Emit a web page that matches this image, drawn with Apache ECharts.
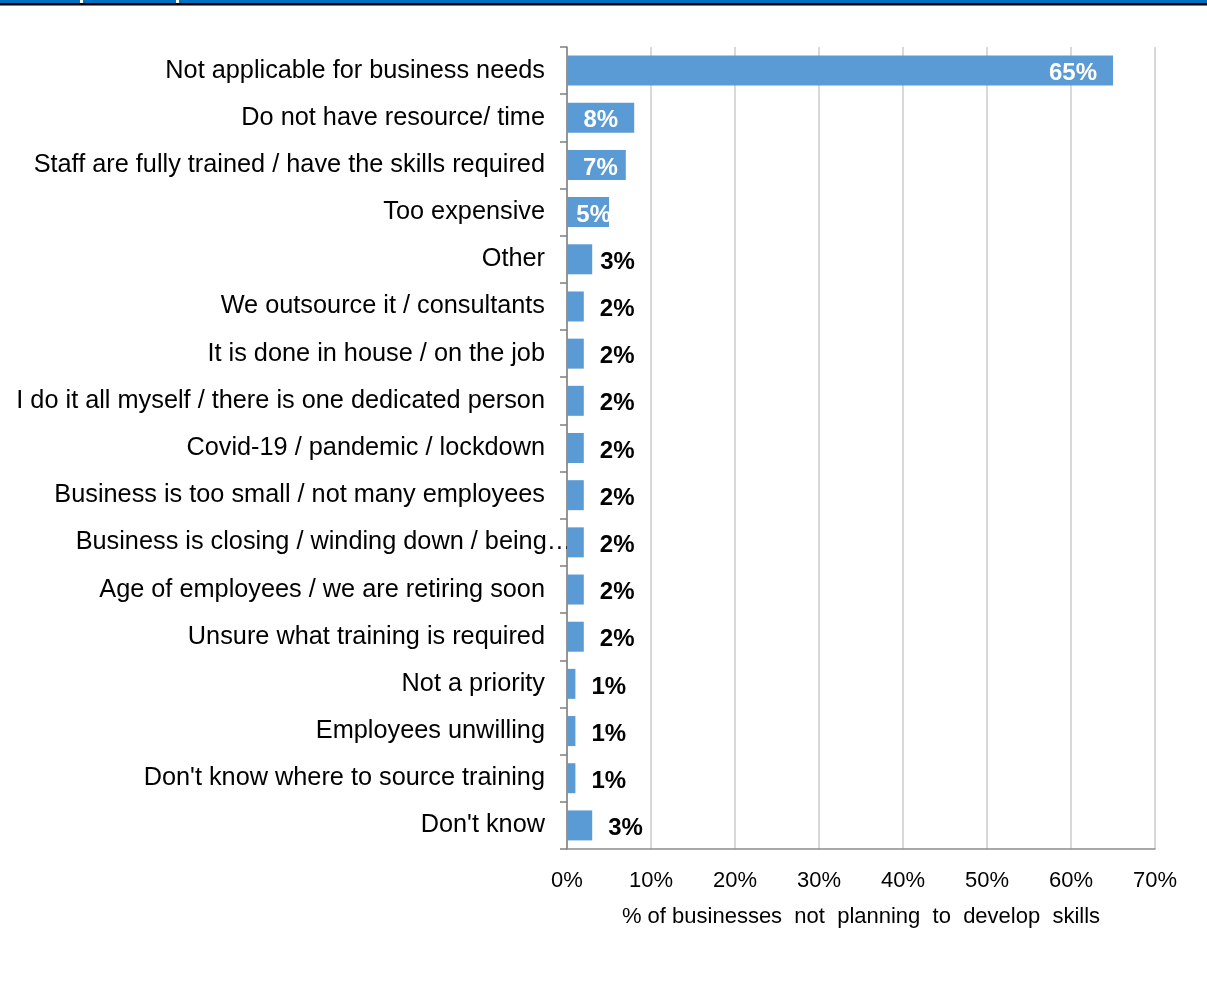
<!DOCTYPE html>
<html>
<head>
<meta charset="utf-8">
<script src="https://cdn.jsdelivr.net/npm/echarts@6/dist/echarts.min.js"></script>
<style>
  html, body { margin: 0; padding: 0; background: #fff; }
  #chart { width: 1207px; height: 982px; }
</style>
</head>
<body>
<div id="chart"></div>
<script>
// Reasons for not planning to develop skills, top to bottom
const categories = [
  'Not applicable for business needs',
  'Do not have resource/ time',
  'Staff are fully trained / have the skills required',
  'Too expensive',
  'Other',
  'We outsource it / consultants',
  'It is done in house / on the job',
  'I do it all myself / there is one dedicated person',
  'Covid-19 / pandemic / lockdown',
  'Business is too small / not many employees',
  'Business is closing / winding down / being\u2026',
  'Age of employees / we are retiring soon',
  'Unsure what training is required',
  'Not a priority',
  'Employees unwilling',
  "Don't know where to source training",
  "Don't know"
];
// Share of businesses (%)
const values = [65, 8, 7, 5, 3, 2, 2, 2, 2, 2, 2, 2, 2, 1, 1, 1, 3];
const xTicks = [0, 10, 20, 30, 40, 50, 60, 70];

const BAR = '#5b9bd5';
const FONT = '"Liberation Sans", Arial, sans-serif';

// Wide bars carry their label inside, short bars outside
const seriesData = values.map((v, i) => {
  let label;
  if (i === 0) label = { position: 'insideRight', distance: 16, color: '#fff' };
  else if (i === 1) label = { position: 'insideRight', distance: 16, color: '#fff' };
  else if (i === 2) label = { position: 'insideRight', distance: 8, color: '#fff' };
  else if (i === 3) label = { position: 'insideRight', distance: -2, color: '#fff' };
  else if (i === 4) label = { position: 'right', distance: 8, color: '#000' };
  else label = { position: 'right', distance: 16, color: '#000' };
  return { value: v, label: label };
});

const yData = categories.map(c => {
  if (c.indexOf('being') >= 0) {
    return { value: c, textStyle: { padding: [0, -27, 10, 0] } };
  }
  return c;
});

const chart = echarts.init(document.getElementById('chart'), null, { renderer: 'canvas' });
chart.setOption({
  animation: false,
  backgroundColor: '#fff',
  grid: { left: 567, right: 52, top: 47, bottom: 133, containLabel: false },
  xAxis: {
    type: 'value',
    min: 0,
    max: 70,
    interval: 10,
    name: '% of businesses  not  planning  to  develop  skills',
    nameLocation: 'middle',
    nameGap: 57,
    nameTextStyle: { fontFamily: FONT, fontSize: 22, color: '#000' },
    axisLine: { show: true, lineStyle: { color: '#8c8c8c', width: 1.5 } },
    axisTick: { show: false },
    axisLabel: {
      margin: 21,
      fontFamily: FONT, fontSize: 22, color: '#000',
      formatter: v => (xTicks.indexOf(v) >= 0 ? v + '%' : '')
    },
    splitLine: { show: true, lineStyle: { color: '#d9d9d9', width: 2 } }
  },
  yAxis: {
    type: 'category',
    inverse: true,
    data: yData,
    axisLine: { show: true, lineStyle: { color: '#7f7f7f', width: 1.5 } },
    axisTick: { show: true, length: 7, lineStyle: { color: '#7f7f7f', width: 1.5 } },
    axisLabel: { margin: 22, fontFamily: FONT, fontSize: 25.3, color: '#000', padding: [0, 0, 10, 0] },
    splitLine: { show: false }
  },
  series: [{
    type: 'bar',
    data: seriesData,
    barWidth: 30,
    itemStyle: { color: BAR },
    label: {
      show: true,
      fontFamily: FONT,
      fontSize: 24,
      fontWeight: 'bold',
      offset: [0, 3],
      formatter: '{c}%'
    }
  }],
  graphic: [
    { type: 'rect', left: 0, top: 0, shape: { width: 1207, height: 3 }, style: { fill: '#0070c0' }, silent: true },
    { type: 'rect', left: 0, top: 3, shape: { width: 1207, height: 2.5 }, style: { fill: '#000' }, silent: true },
    { type: 'rect', left: 80, top: 0, shape: { width: 3, height: 3 }, style: { fill: '#fff' }, silent: true },
    { type: 'rect', left: 176, top: 0, shape: { width: 3, height: 3 }, style: { fill: '#fff' }, silent: true }
  ]
});
</script>
</body>
</html>
